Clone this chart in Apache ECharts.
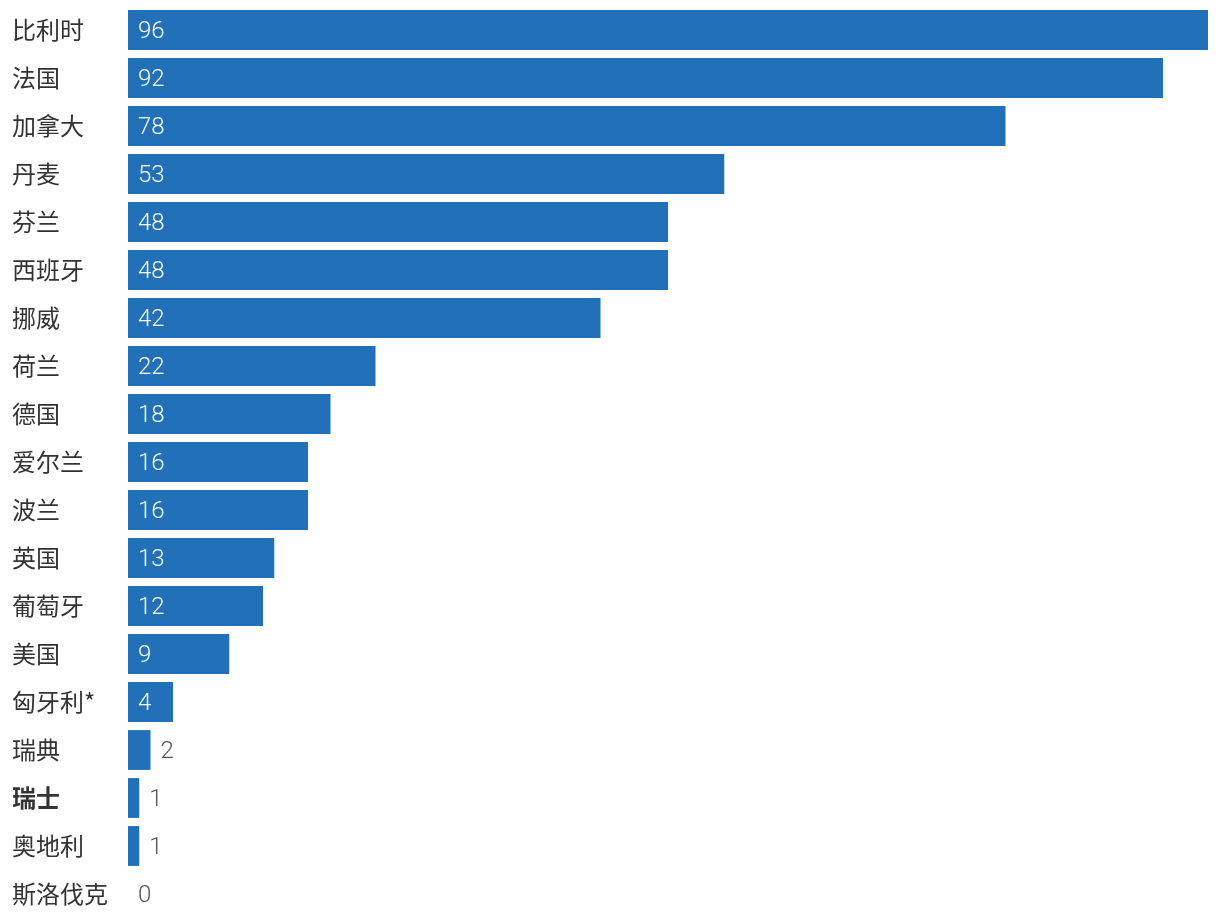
<!DOCTYPE html>
<html>
<head>
<meta charset="utf-8">
<script src="https://cdn.jsdelivr.net/npm/echarts@6/dist/echarts.min.js"></script>
<style>html,body{margin:0;padding:0;background:#fff;}#c{width:1220px;height:924px;}</style>
</head>
<body>
<div id="c"></div>
<script>
const categories = ['比利时','法国','加拿大','丹麦','芬兰','西班牙','挪威','荷兰','德国','爱尔兰','波兰','英国','葡萄牙','美国','匈牙利*','瑞典','瑞士','奥地利','斯洛伐克'];
const values = [96,92,78,53,48,48,42,22,18,16,16,13,12,9,4,2,1,1,0];
const boldCategories = ['瑞士'];

const chart = echarts.init(document.getElementById('c'));
const data = values.map(v => ({
  value: v,
  label: v >= 4
    ? {position: 'insideLeft', color: '#fff', distance: 10}
    : {position: 'right', color: '#555', distance: 10}
}));
chart.setOption({
  animation: false,
  grid: {left: 128, right: 12, top: 6, bottom: 6, containLabel: false},
  xAxis: {type: 'value', min: 0, max: 96, show: false},
  yAxis: {
    type: 'category', data: categories, inverse: true,
    axisLine: {show: false}, axisTick: {show: false},
    axisLabel: {
      align: 'left', margin: 116, fontSize: 24, color: '#333',
      fontFamily: 'Noto Sans CJK SC',
      formatter: v => boldCategories.includes(v) ? '{b|' + v + '}' : v,
      rich: {b: {fontWeight: 'bold', fontSize: 24, color: '#333', fontFamily: 'Noto Sans CJK SC'}}
    }
  },
  series: [{
    type: 'bar', data: data, barCategoryGap: '17%',
    itemStyle: {color: '#2170B8'},
    label: {show: true, fontSize: 24, fontFamily: 'Roboto', fontWeight: 300, offset: [0, 2]}
  }]
});
</script>
</body>
</html>
